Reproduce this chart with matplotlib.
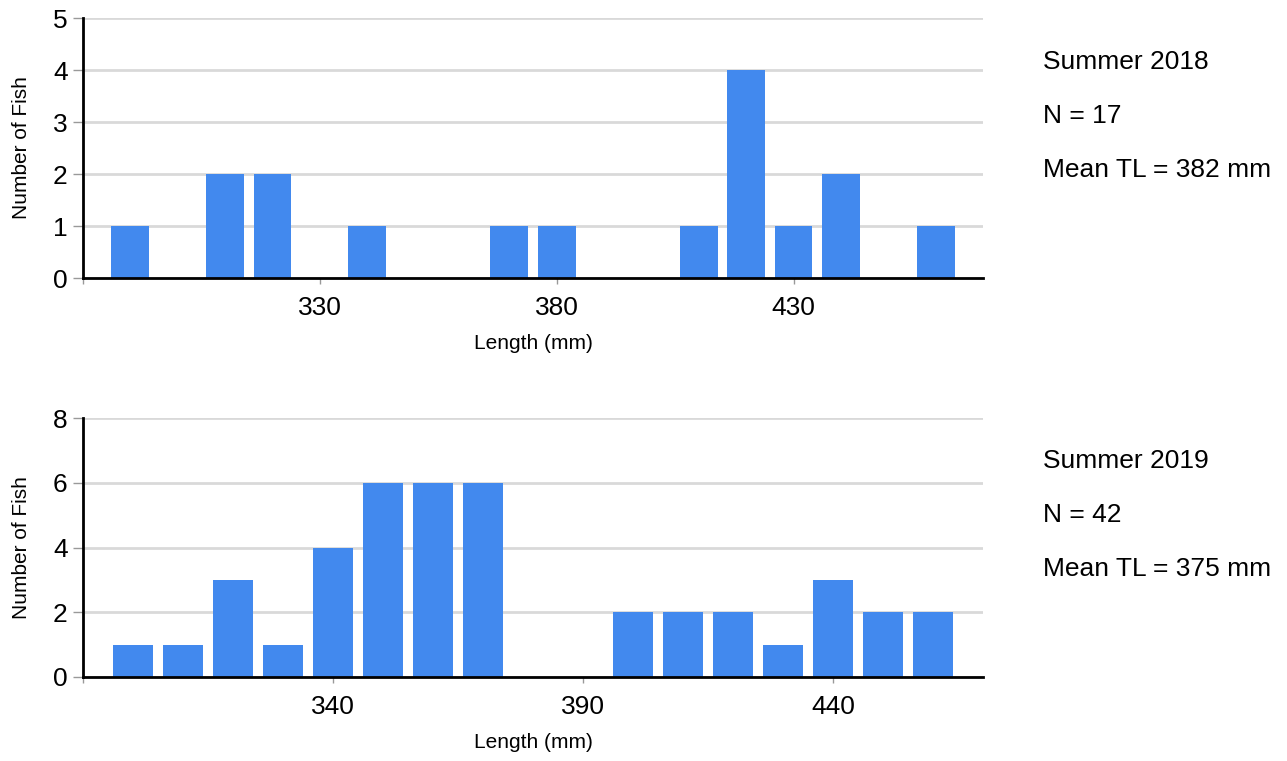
import matplotlib
matplotlib.use("Agg")
import matplotlib.pyplot as plt

plt.rcParams['font.family'] = ['Liberation Sans', 'DejaVu Sans']

# summer 2018 histogram (bin centre in mm, count)
bins_2018 = [290, 310, 320, 340, 370, 380, 410, 420, 430, 440, 460]
counts_2018 = [1, 2, 2, 1, 1, 1, 1, 4, 1, 2, 1]
ticks_2018 = [280, 330, 380, 430]
info_2018 = ["Summer 2018", "N = 17", "Mean TL = 382 mm"]

# summer 2019 histogram
bins_2019 = [300, 310, 320, 330, 340, 350, 360, 370, 400, 410, 420, 430, 440, 450, 460]
counts_2019 = [1, 1, 3, 1, 4, 6, 6, 6, 2, 2, 2, 1, 3, 2, 2]
ticks_2019 = [290, 340, 390, 440]
info_2019 = ["Summer 2019", "N = 42", "Mean TL = 375 mm"]

BLUE = '#4289ee'
GRID = '#d9d9d9'

fig = plt.figure(figsize=(12.87, 7.61), dpi=100)


def draw(rect, bins, counts, xlim, xticks, ymax, ystep, info, text_y):
    ax = fig.add_axes(rect)
    ax.bar(bins, counts, width=8, color=BLUE, zorder=3)
    ax.set_xlim(*xlim)
    ax.set_ylim(0, ymax)
    ax.set_yticks(range(0, ymax + 1, ystep))
    ax.set_xticks(xticks)
    ax.set_xticklabels([''] + [str(t) for t in xticks[1:]])
    ax.yaxis.grid(True, color=GRID, linewidth=2, zorder=0)
    ax.set_axisbelow(True)
    for s in ['top', 'right']:
        ax.spines[s].set_visible(False)
    for s in ['left', 'bottom']:
        ax.spines[s].set_linewidth(2)
        ax.spines[s].set_color('black')
        ax.spines[s].set_zorder(4)
    ax.tick_params(axis='y', length=7, width=1, color='#999999', pad=4, labelsize=19)
    ax.tick_params(axis='x', length=4, width=1, color='#999999', pad=9, labelsize=19)
    ax.set_xlabel("Length (mm)", fontsize=15, labelpad=10)
    ax.set_ylabel("Number of Fish", fontsize=15, labelpad=16)
    for i, line in enumerate(info):
        fig.text(1043 / 1287, 1 - (text_y + i * 54) / 761, line, fontsize=19,
                 ha='left', va='center')
    return ax


draw([83 / 1287, 1 - 278 / 761, 900 / 1287, 260 / 761], bins_2018, counts_2018,
     (280, 470), ticks_2018, 5, 1, info_2018, 62)
draw([83 / 1287, 1 - 677 / 761, 900 / 1287, 259 / 761], bins_2019, counts_2019,
     (290, 470), ticks_2019, 8, 2, info_2019, 461)

fig.savefig("out.png", dpi=100)
